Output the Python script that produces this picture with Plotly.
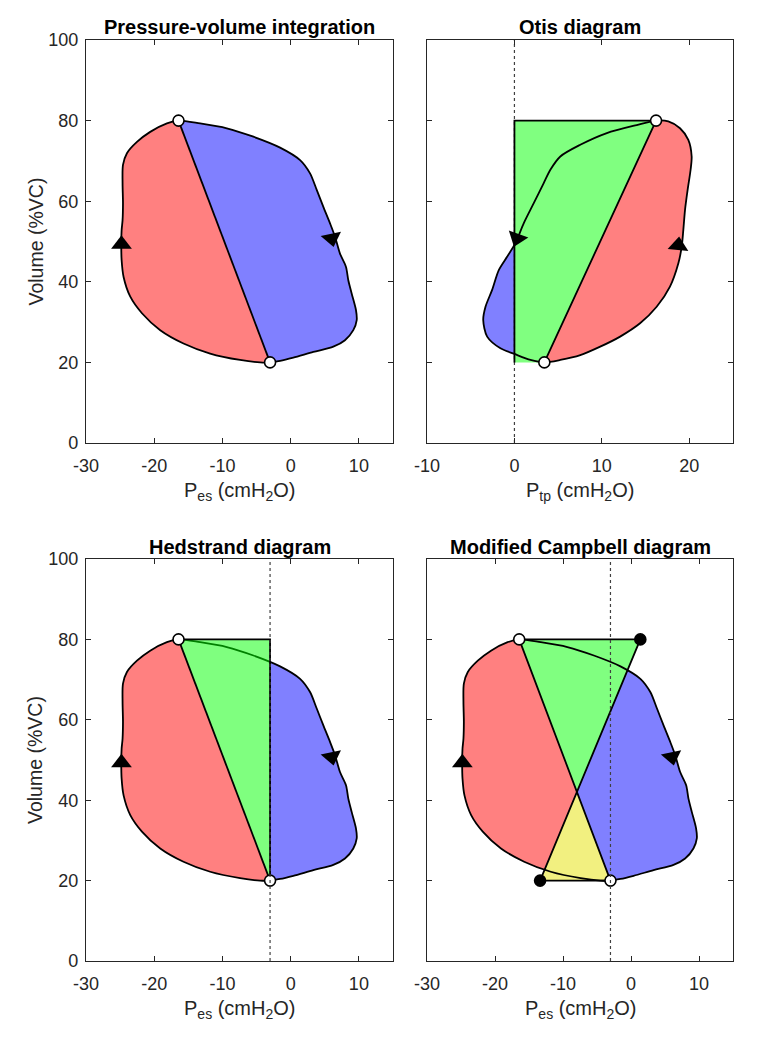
import plotly.graph_objects as go

# --- data ------------------------------------------------------------------
# esophageal pressure loop (cmH2O vs %VC)
pes_insp_x = [-3.02, -4.48, -7.41, -11.8, -15.71, -19.12, -21.8, -23.51, -24.49, -24.78,
              -24.83, -24.78, -24.64, -24.58, -24.64, -24.58, -24.0, -22.53, -20.59, -18.14, -16.44]
pes_insp_y = [20.0, 20.0, 20.6, 22.2, 24.7, 28.0, 32.2, 36.3, 41.2, 45.4,
              49.5, 52.8, 55.3, 59.5, 64.4, 69.0, 71.9, 74.7, 77.2, 79.3, 80.0]
pes_exp_x = [-16.44, -13.27, -9.36, -5.46, -1.55, 1.38, 2.84, 3.82, 4.79, 5.77, 6.5, 7.23,
             8.11, 8.45, 8.94, 9.57, 9.68, 9.18, 7.96, 6.25, 3.32, 0.39, -1.55, -3.02]
pes_exp_y = [80.0, 79.3, 78.1, 76.0, 73.3, 70.2, 66.9, 62.8, 58.6, 54.5, 51.2, 47.0,
             43.7, 40.4, 37.1, 33.0, 30.5, 28.0, 25.5, 23.9, 22.6, 21.2, 20.4, 20.0]

# transpulmonary pressure loop
ptp_insp_x = [3.42, 5.25, 7.53, 9.81, 12.09, 14.37, 16.27, 17.79, 18.75, 19.13,
              19.32, 19.51, 19.81, 20.15, 20.27, 19.89, 18.94, 17.6, 16.2]
ptp_insp_y = [20.0, 20.6, 21.8, 23.9, 26.4, 29.7, 33.8, 38.8, 44.6, 48.7,
              52.9, 57.8, 62.8, 67.8, 71.1, 75.2, 78.1, 79.8, 80.0]
ptp_exp_x = [16.2, 13.99, 10.57, 7.53, 5.25, 4.11, 3.35, 2.21, 1.06, 0.11,
             -0.84, -1.79, -2.55, -3.31, -3.57, -3.12, -1.6, 0.0, 1.83, 3.42]
ptp_exp_y = [80.0, 78.9, 76.9, 74.0, 71.1, 67.8, 64.5, 59.5, 54.5, 49.6,
             46.2, 42.9, 38.0, 33.8, 30.5, 26.4, 23.5, 22.1, 20.6, 20.0]

# end-inspiration / end-expiration points
pes_ends_x = [-16.44, -3.02]
ptp_ends_x = [16.2, 3.42]
ends_y = [80.0, 20.0]

# chest wall line used in the modified Campbell diagram
cw_x = [1.37, -13.37]
cw_y = [80.0, 20.0]

# direction arrows (x, y, symbol, angle)
pes_arrows = [(-24.8, 49.3, "triangle-up", 0), (6.02, 50.8, "triangle-down", -12)]
ptp_arrows = [(0.3, 50.8, "triangle-down", 20), (18.75, 49.0, "triangle-up", 5)]

titles = ["Pressure-volume integration", "Otis diagram",
          "Hedstrand diagram", "Modified Campbell diagram"]
xlabels = ["P<sub>es</sub> (cmH<sub>2</sub>O)", "P<sub>tp</sub> (cmH<sub>2</sub>O)",
           "P<sub>es</sub> (cmH<sub>2</sub>O)", "P<sub>es</sub> (cmH<sub>2</sub>O)"]
pes_ticks = [-30, -20, -10, 0, 10]
ptp_ticks = [-10, 0, 10, 20]
vol_ticks = [0, 20, 40, 60, 80, 100]

RED = "#FF8080"
BLUE = "#8080FF"
GREEN = "#80FF80"
YELLOW = "#F2F080"
AX = "#262626"
FONT = "Arial, Liberation Sans, sans-serif"

# the page body adds an 8 px offset, so the figure is drawn 8 px smaller
OFF = 8
W, H = 763 - OFF, 1051 - OFF
# panel boxes in page pixels (left, right, top, bottom)
boxes = [(86, 393, 40, 443), (427, 733, 40, 443),
         (86, 393, 559, 961), (427, 733, 559, 961)]
LW = 1.8

fig = go.Figure()


def ax_name(i, kind):
    return kind if i == 0 else f"{kind}{i + 1}"


def px(v):
    return (v - OFF) / W


def py(v):
    return 1 - (v - OFF) / H


def poly(i, xs, ys, color, edge=None, shape="linear"):
    fig.add_trace(go.Scatter(
        x=xs, y=ys, mode="lines", fill="toself", fillcolor=color,
        line=dict(width=LW if edge else 0, color=edge or color, shape=shape, smoothing=0.8),
        xaxis=ax_name(i, "x"), yaxis=ax_name(i, "y"),
        hoverinfo="skip", showlegend=False))


def line(i, xs, ys, color="black", width=LW, dash=None, shape="linear"):
    fig.add_trace(go.Scatter(
        x=xs, y=ys, mode="lines",
        line=dict(color=color, width=width, dash=dash, shape=shape, smoothing=0.8),
        xaxis=ax_name(i, "x"), yaxis=ax_name(i, "y"),
        hoverinfo="skip", showlegend=False))


def dots(i, xs, ys, fill):
    fig.add_trace(go.Scatter(
        x=xs, y=ys, mode="markers",
        marker=dict(size=11, color=fill, line=dict(color="black", width=1.6)),
        xaxis=ax_name(i, "x"), yaxis=ax_name(i, "y"),
        hoverinfo="skip", showlegend=False))


def arrows(i, arr):
    for x, y, sym, ang in arr:
        fig.add_trace(go.Scatter(
            x=[x], y=[y], mode="markers",
            marker=dict(symbol=sym, size=18, angle=ang, color="black",
                        line=dict(width=0)),
            xaxis=ax_name(i, "x"), yaxis=ax_name(i, "y"),
            hoverinfo="skip", showlegend=False))


pes_loop_x = pes_insp_x + pes_exp_x[1:]
pes_loop_y = pes_insp_y + pes_exp_y[1:]
ptp_loop_x = ptp_insp_x + ptp_exp_x[1:]
ptp_loop_y = ptp_insp_y + ptp_exp_y[1:]
eoe = pes_ends_x[1]
S = "spline"

# intersection of the PV diagonal and the chest wall line
a1 = (pes_ends_x[1] - pes_ends_x[0]) / (ends_y[1] - ends_y[0])
a2 = (cw_x[1] - cw_x[0]) / (cw_y[1] - cw_y[0])
iy = ends_y[0] + (cw_x[0] - pes_ends_x[0]) / (a1 - a2)
ix = pes_ends_x[0] + a1 * (iy - ends_y[0])

# 1: pressure-volume integration
poly(0, pes_loop_x, pes_loop_y, BLUE, shape=S)
poly(0, pes_insp_x, pes_insp_y, RED, shape=S)
line(0, pes_loop_x, pes_loop_y, shape=S)
line(0, pes_ends_x, ends_y)
arrows(0, pes_arrows)
dots(0, pes_ends_x, ends_y, "white")

# 2: Otis diagram
poly(1, ptp_loop_x, ptp_loop_y, BLUE, shape=S)
poly(1, ptp_insp_x, ptp_insp_y, RED, shape=S)
poly(1, [0, ptp_ends_x[0], ptp_ends_x[1], 0],
     [ends_y[0], ends_y[0], ends_y[1], ends_y[1]], GREEN)
line(1, ptp_loop_x, ptp_loop_y, shape=S)
line(1, [0, 0], [0, 100], color="#404040", width=1.2, dash="dot")
line(1, [ptp_ends_x[1], ptp_ends_x[0], 0, 0],
     [ends_y[1], ends_y[0], ends_y[0], ends_y[1]])
arrows(1, ptp_arrows)
dots(1, ptp_ends_x, ends_y, "white")

# 3: Hedstrand diagram
poly(2, pes_loop_x, pes_loop_y, BLUE, shape=S)
poly(2, pes_insp_x, pes_insp_y, RED, shape=S)
tri_x = [pes_ends_x[0], eoe, eoe]
tri_y = [ends_y[0], ends_y[0], ends_y[1]]
poly(2, tri_x, tri_y, "white")
line(2, pes_loop_x, pes_loop_y, shape=S)
poly(2, tri_x, tri_y, "rgba(0,255,0,0.5)", edge="black")
line(2, pes_ends_x, ends_y)
arrows(2, pes_arrows)
dots(2, pes_ends_x, ends_y, "white")
line(2, [eoe, eoe], [0, 100], color="#404040", width=1.2, dash="dot")

# 4: modified Campbell diagram
poly(3, pes_loop_x, pes_loop_y, BLUE, shape=S)
poly(3, pes_insp_x, pes_insp_y, RED, shape=S)
poly(3, [pes_ends_x[0], cw_x[0], ix], [ends_y[0], cw_y[0], iy], GREEN)
poly(3, [ix, cw_x[1], pes_ends_x[1]], [iy, cw_y[1], ends_y[1]], YELLOW)
line(3, pes_loop_x, pes_loop_y, shape=S)
line(3, [pes_ends_x[0], cw_x[0], cw_x[1], pes_ends_x[1], pes_ends_x[0]],
     [ends_y[0], cw_y[0], cw_y[1], ends_y[1], ends_y[0]])
arrows(3, pes_arrows)
dots(3, cw_x, cw_y, "black")
dots(3, pes_ends_x, ends_y, "white")
line(3, [eoe, eoe], [0, 100], color="#404040", width=1.2, dash="dot")

# --- axes -------------------------------------------------------------------
layout = dict(
    width=W, height=H, margin=dict(l=0, r=0, t=0, b=0, autoexpand=False),
    paper_bgcolor="white", plot_bgcolor="white", showlegend=False,
    font=dict(family=FONT, color=AX),
)
xranges = [[-30, 15], [-10, 25], [-30, 15], [-30, 15]]
xticks = [pes_ticks, ptp_ticks, pes_ticks, pes_ticks]
for i, (l, r, t, b) in enumerate(boxes):
    common = dict(showline=True, linecolor=AX, linewidth=1.3, mirror="ticks",
                  ticks="inside", ticklen=5, tickwidth=1.2, tickcolor=AX,
                  showgrid=False, zeroline=False, fixedrange=True, automargin=False,
                  tickfont=dict(size=18, color=AX, family=FONT))
    layout[ax_name(i, "xaxis")] = dict(
        common, domain=[px(l), px(r)], range=xranges[i],
        tickmode="array", tickvals=xticks[i], ticktext=[str(v) for v in xticks[i]],
        anchor=ax_name(i, "y"), ticklabelstandoff=6)
    layout[ax_name(i, "yaxis")] = dict(
        common, domain=[py(b), py(t)], range=[0, 100],
        tickmode="array", tickvals=vol_ticks, ticktext=[str(v) for v in vol_ticks],
        anchor=ax_name(i, "x"), showticklabels=(i % 2 == 0), ticklabelstandoff=3)
fig.update_layout(**layout)

for i, (l, r, t, b) in enumerate(boxes):
    cx = px((l + r) / 2)
    fig.add_annotation(text=f"<b>{titles[i]}</b>", x=cx, y=py(t - 12.5),
                       xref="paper", yref="paper", showarrow=False,
                       xanchor="center", yanchor="middle",
                       font=dict(size=20, color="black", family=FONT))
    fig.add_annotation(text=xlabels[i], x=cx, y=py(b + 34),
                       xref="paper", yref="paper", showarrow=False,
                       xanchor="center", yanchor="top",
                       font=dict(size=20, color=AX, family=FONT))
    if i % 2 == 0:
        fig.add_annotation(text="Volume (%VC)", x=px(35), y=py((t + b) / 2),
                           xref="paper", yref="paper", showarrow=False,
                           textangle=-90, xanchor="center", yanchor="middle",
                           font=dict(size=19.5, color=AX, family=FONT))

fig.write_html("out.html")
